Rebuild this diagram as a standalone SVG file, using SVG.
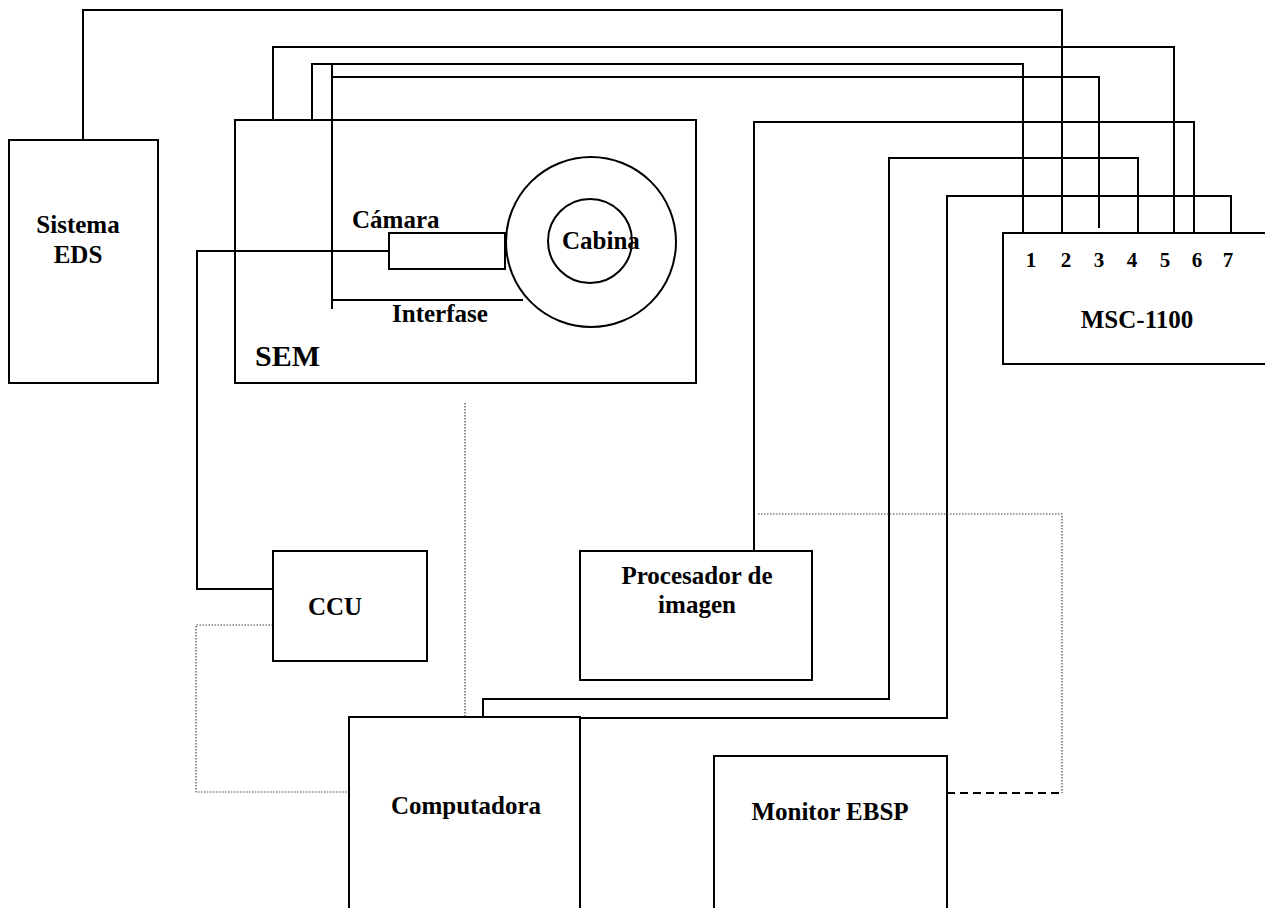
<svg xmlns="http://www.w3.org/2000/svg" width="1265" height="908" viewBox="0 0 1265 908">
<style>
.box{fill:none;stroke:#000;stroke-width:2}
.w{fill:none;stroke:#000;stroke-width:2}
.dot{fill:none;stroke:#444;stroke-width:1.2;stroke-dasharray:1.5 1.5}
.dash{fill:none;stroke:#000;stroke-width:2;stroke-dasharray:8 5}
.t{font-family:"Liberation Serif","Times New Roman",serif;font-weight:bold;font-size:25px;fill:#000}
.n{font-family:"Liberation Serif","Times New Roman",serif;font-weight:bold;font-size:21px;fill:#000}
</style>
<rect width="1265" height="908" fill="#fff"/>
<g id="connectors">
<polyline class="w" points="83,140 83,10 1062,10 1062,233"/>
<polyline class="w" points="273,121 273,47 1174,47 1174,233"/>
<polyline class="w" points="312,121 312,64 1023,64 1023,233"/>
<polyline class="w" points="332,77 1099,77 1099,228"/>
<line class="w" x1="332" y1="65" x2="332" y2="309"/>
<line class="w" x1="332" y1="300" x2="523" y2="300"/>
<polyline class="w" points="754,551 754,122 1194,122 1194,233"/>
<polyline class="w" points="483,717 483,699 889,699 889,158 1138,158 1138,233"/>
<polyline class="w" points="580,718 947,718 947,196 1231,196 1231,233"/>
<polyline class="w" points="389,251 197,251 197,589 273,589"/>
<polyline class="dot" points="273,625 196,625 196,792 349,792"/>
<line class="dot" x1="465" y1="403" x2="465" y2="717"/>
<polyline class="dot" points="758,514 1062,514 1062,793"/>
<line class="dash" x1="947" y1="793" x2="1062" y2="793"/>
</g>
<g id="eds">
<rect class="box" x="9" y="140" width="149" height="243"/>
<text class="t" x="78" y="233" text-anchor="middle">Sistema</text>
<text class="t" x="78" y="263" text-anchor="middle">EDS</text>
</g>
<g id="sem">
<rect class="box" x="235" y="120" width="461" height="263"/>
<text class="t" x="255" y="366" style="font-size:30px">SEM</text>
</g>
<g id="camara">
<rect class="box" x="389" y="233" width="116" height="36"/>
<text class="t" x="352" y="228">Cámara</text>
</g>
<g id="cabina">
<circle class="box" cx="591" cy="242" r="85"/>
<circle class="box" cx="590" cy="241" r="42"/>
<text class="t" x="562" y="249">Cabina</text>
</g>
<g id="interfase">
<text class="t" x="392" y="322">Interfase</text>
</g>
<g id="msc">
<path class="box" d="M1270,233 H1003 V364 H1270"/>
<text class="n" x="1031" y="267" text-anchor="middle">1</text>
<text class="n" x="1066" y="267" text-anchor="middle">2</text>
<text class="n" x="1099" y="267" text-anchor="middle">3</text>
<text class="n" x="1132" y="267" text-anchor="middle">4</text>
<text class="n" x="1165" y="267" text-anchor="middle">5</text>
<text class="n" x="1197" y="267" text-anchor="middle">6</text>
<text class="n" x="1228" y="267" text-anchor="middle">7</text>
<text class="t" x="1137" y="328" text-anchor="middle">MSC-1100</text>
</g>
<g id="ccu">
<rect class="box" x="273" y="551" width="154" height="110"/>
<text class="t" x="335" y="615" text-anchor="middle">CCU</text>
</g>
<g id="procesador">
<rect class="box" x="580" y="551" width="232" height="129"/>
<text class="t" x="697" y="584" text-anchor="middle">Procesador de</text>
<text class="t" x="697" y="613" text-anchor="middle">imagen</text>
</g>
<g id="computadora">
<path class="box" d="M349,915 V717 H580 V915"/>
<text class="t" x="466" y="814" text-anchor="middle">Computadora</text>
</g>
<g id="monitor">
<path class="box" d="M714,915 V756 H947 V915"/>
<text class="t" x="830" y="820" text-anchor="middle">Monitor EBSP</text>
</g>
</svg>
